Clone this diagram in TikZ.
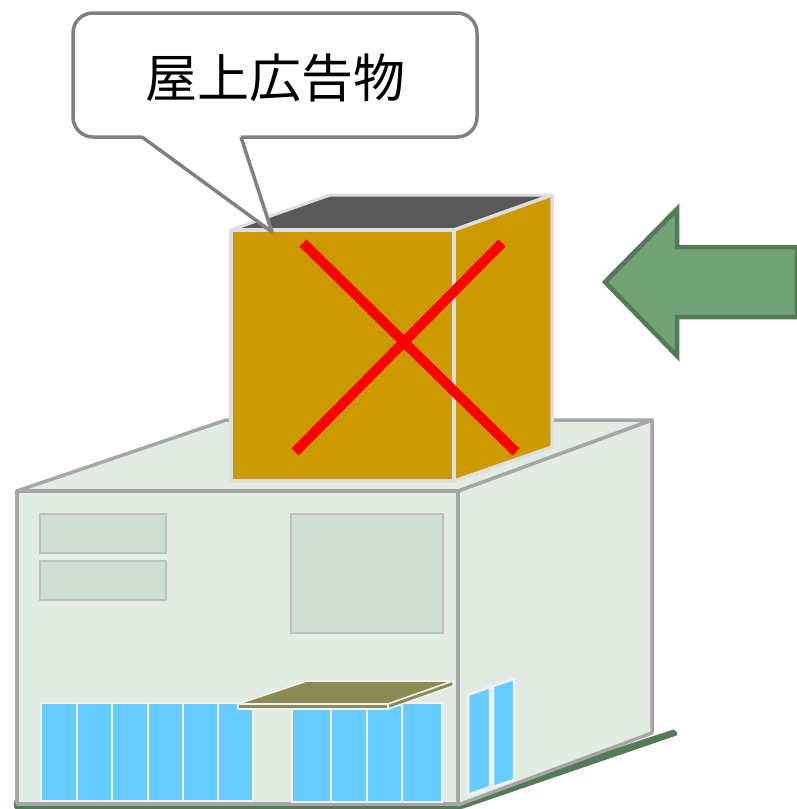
\documentclass[tikz,border=0pt]{standalone}
\usepackage{fontspec}
\newfontfamily\cjk{Noto Sans CJK JP}
\definecolor{wallfill}{HTML}{E2ECE3}
\definecolor{wallline}{HTML}{A6A6A6}
\definecolor{panefill}{HTML}{D0DFD3}
\definecolor{paneline}{HTML}{BFBFBF}
\definecolor{glass}{HTML}{66CCFF}
\definecolor{glassline}{HTML}{F2F2F2}
\definecolor{awning}{HTML}{8A8A55}
\definecolor{signfill}{HTML}{CC9900}
\definecolor{signtop}{HTML}{595959}
\definecolor{signline}{HTML}{DEDEDE}
\definecolor{ground}{HTML}{547B57}
\definecolor{arrowfill}{HTML}{71A377}
\definecolor{arrowline}{HTML}{527A55}
\definecolor{calloutline}{HTML}{808080}
\tikzset{
  wall/.style={fill=wallfill, draw=wallline, line width=3.5pt, line join=round},
  panel/.style={fill=panefill, draw=paneline, line width=2.5pt},
  glasspane/.style={fill=glass, draw=glassline, line width=2.5pt},
  awningpart/.style={fill=awning, draw=glassline, line width=1.5pt, line join=round},
  signface/.style={fill=signfill, draw=signline, line width=3.5pt, line join=round},
  cross/.style={draw=red, line width=10pt},
  balloon/.style={draw=calloutline, line width=3.5pt, line join=round},
}
\begin{document}
\begin{tikzpicture}[x=1pt, y=-1pt]
\useasboundingbox (0,0) rectangle (796,809);

% ground strip under the building
\fill[ground, rounded corners=2pt]
  (14,809) -- (462,809) -- (678,735) -- (675,729) -- (458,800) -- (14,800) -- cycle;

% building body
\draw[wall] (458,491) -- (652,420) -- (652,733) -- (458,805) -- cycle;
\draw[wall] (17,491) -- (226,420) -- (652,420) -- (458,491) -- cycle;
\draw[wall] (17,491) rectangle (458,804);

% upper windows
\draw[panel] (40,514) rectangle (166,553);
\draw[panel] (40,561) rectangle (166,600);
\draw[panel] (291,514) rectangle (443,633);

% shop front glazing, left group
\foreach \a/\b in {41/77, 77/112, 112/148, 148/183, 183/218, 218/253}
  \draw[glasspane] (\a,703) rectangle (\b,801);
% shop front glazing, right group
\foreach \a/\b in {292/331, 331/367, 367/402, 402/442}
  \draw[glasspane] (\a,703) rectangle (\b,802);
% side glazing
\draw[glasspane] (468,695) -- (490,687) -- (490,787) -- (468,795) -- cycle;
\draw[glasspane] (493,686) -- (514,679) -- (514,780) -- (493,787) -- cycle;

% awning
\draw[awningpart] (238,704) -- (307,681) -- (453,681) -- (388,704) -- cycle;
\draw[awningpart] (238,704) -- (388,704) -- (388,709) -- (238,709) -- cycle;
\draw[awningpart] (388,704) -- (453,681) -- (453,686) -- (388,709) -- cycle;

% rooftop sign box
\draw[fill=signtop, draw=signline, line width=3pt, line join=round]
  (231,230) -- (330,195) -- (552,195) -- (454,230) -- cycle;
\draw[signface] (454,230) -- (552,195) -- (552,447) -- (454,481) -- cycle;
\draw[signface] (231,230) rectangle (454,481);

% crossed out
\draw[cross] (303,243) -- (516,452);
\draw[cross] (295,452) -- (502,243);

% speech balloon: fill, then outline in two open pieces
\fill[white, rounded corners=20pt] (73,13) rectangle (477,137);
\fill[white] (142,137) -- (272,232) -- (241,137) -- cycle;
\draw[balloon, rounded corners=20pt]
  (142,137) -- (73,137) -- (73,13) -- (477,13) -- (477,137) -- (241,137);
\draw[balloon] (142,137) -- (272,232) -- (241,137);
\node (label) at (275,78) {\cjk\fontsize{52}{60}\selectfont 屋上広告物};

% wind arrow
\draw[fill=arrowfill, draw=arrowline, line width=4.5pt, line join=miter]
  (605,282) -- (677,209) -- (677,247) -- (797,247) -- (797,317) -- (677,317) -- (677,356) -- cycle;
\end{tikzpicture}
\end{document}
